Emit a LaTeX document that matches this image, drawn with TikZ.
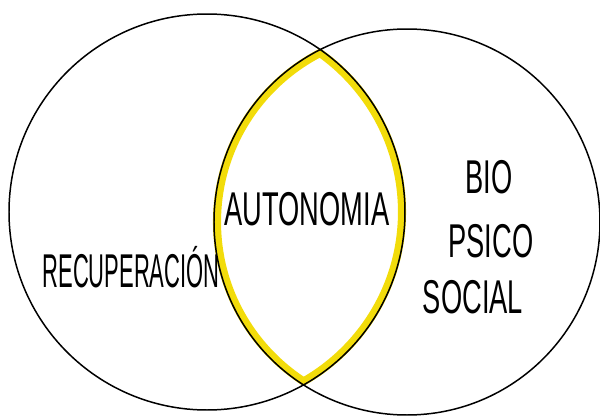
\documentclass[tikz,border=0pt]{standalone}
\usepackage{fontspec}
\newfontfamily\handfont[FakeStretch=0.575]{Liberation Sans}
\newfontfamily\handnarrowfont[FakeStretch=0.463]{Liberation Sans}
\definecolor{marker}{RGB}{242,220,10}

\begin{document}
\begin{tikzpicture}[x=0.02cm,y=-0.02cm,
  ring/.style={draw,line width=0.85pt},
  glow/.style={draw=marker,line width=4.6pt},
  word/.style={font=\handfont\fontsize{27}{30}\selectfont,inner sep=0pt,anchor=base}]
\useasboundingbox (0,0) rectangle (600,416);
\begin{scope}
\clip (207,212) circle[radius=198];
\draw[glow] (407,222) circle[radius=190];
\end{scope}
\begin{scope}
\clip (407,222) circle[radius=193];
\draw[glow] (207,212) circle[radius=195];
\end{scope}
\draw[ring] (207,212) circle[radius=198];
\draw[ring] (407,222) circle[radius=193];
\node[word] (auto) at (307,225) {AUTONOMIA};
\node[word,font=\handnarrowfont\fontsize{27}{30}\selectfont] (recup) at (131,287) {RECUPERACIÓN};
\node[word] (bio) at (489,193) {BIO};
\node[word] (psico) at (491,257) {PSICO};
\node[word] (social) at (473,313) {SOCIAL};
\end{tikzpicture}
\end{document}
